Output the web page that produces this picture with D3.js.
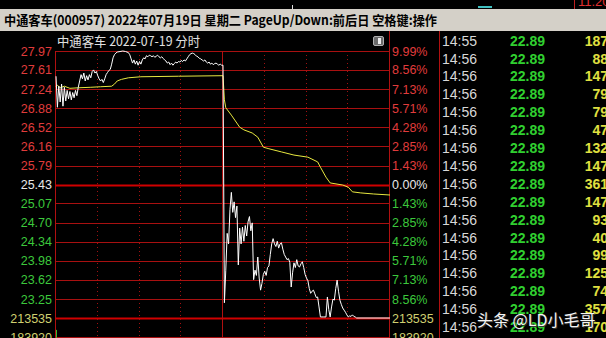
<!DOCTYPE html>
<html>
<head>
<meta charset="utf-8">
<script src="https://cdn.jsdelivr.net/npm/d3@7/dist/d3.min.js"></script>
<style>
  body { margin: 0; background: #000; overflow: hidden; }
  svg { display: block; }
</style>
</head>
<body>
<svg id="chart" width="606" height="338"></svg>
<script>
// ---- data ----
var headerText = "中通客车(000957) 2022年07月19日 星期二 PageUp/Down:前后日 空格键:操作";
var titleText = "中通客车  2022-07-19 分时";
var preClose = 25.43;
var limitDown = 22.89;
var limitUp = 27.97;
var priceTicks = [27.97, 27.61, 27.24, 26.88, 26.52, 26.16, 25.79, 25.43, 25.07, 24.70, 24.34, 23.98, 23.62, 23.25];
var pctTicks = ["9.99%", "8.56%", "7.13%", "5.71%", "4.28%", "2.85%", "1.43%", "0.00%", "1.43%", "2.85%", "4.28%", "5.71%", "7.13%", "8.56%"];
var volTicks = [213535, 183920];
var minuteTicks = [30, 60, 90, 150, 180, 210];
var noonMinute = 120;

// [minute, price] of the white price line
var pricePts = [
  [0,27.49],[1,26.90],[2,27.30],[3,27.00],[4,27.34],[5,26.92],[6,27.28],[7,27.02],[8,27.22],[9,27.06],
  [10,27.20],[11,27.04],[12,27.18],[13,27.08],[14,27.22],[15,27.12],[16,27.28],[17,27.40],[18,27.52],[19,27.44],
  [20,27.55],[21,27.40],[22,27.50],[23,27.42],[24,27.52],[25,27.46],[26,27.58],[27,27.61],[28,27.55],[29,27.58],
  [30,27.50],[31,27.44],[32,27.40],[33,27.43],[34,27.37],[35,27.44],[36,27.52],[37,27.56],[38,27.60],[39,27.62],
  [40,27.72],[41,27.84],[42,27.90],[43,27.93],[44,27.95],[46,27.96],[48,27.97],[50,27.96],[52,27.94],[53,27.90],
  [54,27.82],[55,27.74],[56,27.80],[57,27.72],[58,27.78],[59,27.70],[60,27.77],[61,27.72],[62,27.80],[63,27.84],
  [64,27.82],[65,27.88],[66,27.86],[67,27.89],[68,27.88],[69,27.86],[70,27.88],[71,27.85],[72,27.87],[73,27.89],
  [74,27.86],[75,27.84],[76,27.86],[77,27.83],[78,27.80],[79,27.78],[80,27.74],[81,27.76],[82,27.71],[83,27.74],
  [84,27.70],[85,27.73],[86,27.76],[87,27.74],[88,27.77],[89,27.76],[90,27.79],[91,27.77],[92,27.80],[93,27.78],
  [94,27.82],[95,27.86],[96,27.90],[97,27.92],[98,27.93],[99,27.92],[100,27.90],[101,27.87],[102,27.86],[103,27.83],
  [104,27.82],[105,27.80],[106,27.78],[107,27.80],[108,27.76],[109,27.74],[110,27.76],[111,27.72],[112,27.74],[113,27.71],
  [114,27.73],[115,27.74],[116,27.72],[117,27.70],[118,27.72],[119,27.70],[120,27.70],
  [121,23.18],[122,23.80],[123,24.50],[124,24.30],[125,24.95],[126,25.28],[127,24.90],[128,25.10],[129,24.80],[130,25.02],
  [131,23.90],[132,24.60],[133,24.30],[134,24.62],[135,24.35],[136,24.65],[137,24.45],[138,24.72],[139,24.82],[140,24.55],
  [141,24.70],[142,23.62],[143,23.80],[144,23.70],[145,24.05],[146,23.65],[147,23.42],[148,23.55],[149,23.72],[150,23.78],
  [151,23.70],[152,23.85],[153,23.88],[154,24.10],[155,24.30],[156,24.40],[157,24.30],[158,24.25],[159,24.35],[160,24.22],
  [161,24.30],[162,24.32],[163,24.20],[164,24.10],[165,24.05],[166,24.00],[167,24.02],[168,23.95],[169,23.48],[170,23.75],
  [171,23.94],[172,23.85],[173,24.00],[174,23.88],[175,23.86],[176,23.92],[177,23.96],[178,23.85],[179,23.72],[180,23.65],
  [181,23.60],[182,23.45],[183,23.36],[184,23.40],[185,23.42],[186,23.35],[187,23.28],[188,23.29],[189,23.10],[190,22.91],
  [192,22.91],[194,22.91],[195,23.29],[196,23.05],[197,22.91],[198,23.10],[199,23.25],[200,23.23],[201,23.45],[202,23.61],
  [203,23.40],[204,23.23],[205,23.15],[206,23.08],[207,23.04],[208,23.00],[209,22.95],[210,22.91],[211,22.93],[212,22.92],
  [213,22.95],[214,22.92],[215,22.91],[216,22.89],[240,22.89]
];

// [minute, price] of the yellow average line
var avgPts = [
  [0,27.29],[1,27.32],[3,27.27],[6,27.30],[10,27.26],[16,27.27],[25,27.28],[32,27.29],[40,27.30],[42,27.34],
  [44,27.40],[47,27.43],[52,27.46],[61,27.48],[88,27.49],[120,27.50],[121,27.04],[122,26.89],[126,26.75],[132,26.52],
  [135,26.47],[141,26.41],[145,26.33],[149,26.14],[153,26.11],[162,26.05],[171,25.99],[181,25.95],[188,25.86],[190,25.76],
  [194,25.57],[197,25.46],[206,25.42],[210,25.38],[213,25.29],[219,25.27],[228,25.25],[240,25.23]
];

// first volume bar (the only one visible)
var volPts = [[0, 195000]];

// trade list on the right
var tradeTimes = ["14:55","14:56","14:56","14:56","14:56","14:56","14:56","14:56","14:56","14:56","14:56","14:56","14:56","14:56","14:56","14:56","14:56"];
var tradePrices = ["22.89","22.89","22.89","22.89","22.89","22.89","22.89","22.89","22.89","22.89","22.89","22.89","22.89","22.89","22.89","22.89","22.89"];
var tradeVols = [187, 88, 147, 79, 79, 47, 132, 147, 361, 147, 93, 40, 99, 125, 74, 357, 170];

// ---- drawing ----
var svg = d3.select("#chart");
var plotL = 55, plotR = 389, plotT = 51, plotB = 318, bottom = 338;
var numFont = "'Liberation Sans', Arial, sans-serif";
var cjkFont = "'Noto Sans CJK SC', sans-serif";

var x = d3.scaleLinear().domain([0, 240]).range([plotL, plotR]);
var y = d3.scaleLinear().domain([limitDown, limitUp]).range([plotB, plotT]);
var yVol = d3.scaleLinear().domain([0, volTicks[0]]).range([455, plotB]);

svg.append("rect").attr("width", 606).attr("height", 338).attr("fill", "#000");

// remnants of the row above (cut off by the header bar)
svg.append("text").attr("x", 578).attr("y", 6).attr("fill", "#e03030")
  .style("font", "13px " + numFont).text("11.20");
svg.append("rect").attr("x", 574).attr("y", 0).attr("width", 1).attr("height", 9).attr("fill", "#c02020");
svg.append("rect").attr("x", 478).attr("y", 6).attr("width", 14).attr("height", 2).attr("fill", "#40c0c0");
svg.append("rect").attr("x", 292).attr("y", 5).attr("width", 1).attr("height", 4).attr("fill", "#ddd");

// grey header bar
svg.append("rect").attr("x", 0).attr("y", 9).attr("width", 606).attr("height", 22).attr("fill", "#d4d0c8");
svg.append("text").attr("x", 4).attr("y", 25).attr("fill", "#000")
  .attr("textLength", 433).attr("lengthAdjust", "spacingAndGlyphs")
  .style("font", "bold 13px " + cjkFont).text(headerText);

// title
svg.append("text").attr("x", 57).attr("y", 46).attr("fill", "#e0e0e0")
  .attr("textLength", 143).attr("lengthAdjust", "spacingAndGlyphs")
  .style("font", "13px " + cjkFont).text(titleText);
svg.append("rect").attr("x", 373.5).attr("y", 36.5).attr("width", 10).attr("height", 9).attr("rx", 1.5)
  .attr("fill", "#6a6a6a").attr("stroke", "#b0b0b0");
svg.append("rect").attr("x", 378).attr("y", 38).attr("width", 3).attr("height", 6).attr("fill", "#eee");

// horizontal grid
var grid = svg.append("g");
grid.selectAll("line.h").data(priceTicks.concat([limitDown])).enter().append("line")
  .attr("x1", plotL).attr("x2", plotR)
  .attr("y1", function(d) { return Math.round(y(d)) + 0.5; })
  .attr("y2", function(d) { return Math.round(y(d)) + 0.5; })
  .attr("stroke", function(d) { return (d === preClose || d === limitDown) ? "#d00000" : "#a81010"; })
  .attr("stroke-width", function(d) { return (d === preClose || d === limitDown) ? 2 : 1; });
grid.append("line").attr("x1", plotL).attr("x2", plotR)
  .attr("y1", Math.round(yVol(volTicks[1])) + 0.5).attr("y2", Math.round(yVol(volTicks[1])) + 0.5)
  .attr("stroke", "#a81010");

// vertical grid
grid.selectAll("line.v").data(minuteTicks).enter().append("line")
  .attr("x1", function(d) { return Math.round(x(d)) + 0.5; })
  .attr("x2", function(d) { return Math.round(x(d)) + 0.5; })
  .attr("y1", plotT).attr("y2", bottom)
  .attr("stroke", "#a01010").attr("stroke-dasharray", "1,3");
grid.append("line").attr("x1", Math.round(x(noonMinute)) + 0.5).attr("x2", Math.round(x(noonMinute)) + 0.5)
  .attr("y1", plotT).attr("y2", bottom).attr("stroke", "#b01010");

// borders
grid.append("line").attr("x1", plotL + 0.5).attr("x2", plotL + 0.5).attr("y1", plotT).attr("y2", bottom).attr("stroke", "#b01010");
grid.append("line").attr("x1", plotR + 0.5).attr("x2", plotR + 0.5).attr("y1", 31).attr("y2", bottom).attr("stroke", "#b01010");
grid.append("line").attr("x1", 439.5).attr("x2", 439.5).attr("y1", 31).attr("y2", bottom).attr("stroke", "#b01010");

// axis labels
function priceColor(p) {
  if (Math.abs(p - preClose) < 0.001) return "#e8e8e8";
  return p > preClose ? "#e03c3c" : "#3cc83c";
}
svg.selectAll("text.lp").data(priceTicks).enter().append("text")
  .attr("x", 52).attr("y", function(d) { return y(d) + 4.5; })
  .attr("text-anchor", "end").attr("fill", priceColor)
  .style("font", "12.5px " + numFont).text(function(d) { return d.toFixed(2); });
svg.selectAll("text.rp").data(priceTicks).enter().append("text")
  .attr("x", 392).attr("y", function(d) { return y(d) + 4.5; })
  .attr("fill", priceColor)
  .style("font", "12.5px " + numFont).text(function(d, i) { return pctTicks[i]; });
svg.selectAll("text.lv").data(volTicks).enter().append("text")
  .attr("x", 52).attr("y", function(d) { return yVol(d) + 4.5; })
  .attr("text-anchor", "end").attr("fill", "#d0d070")
  .style("font", "12.5px " + numFont).text(function(d) { return d; });
svg.selectAll("text.rv").data(volTicks).enter().append("text")
  .attr("x", 392).attr("y", function(d) { return yVol(d) + 4.5; })
  .attr("fill", "#d0d070")
  .style("font", "12.5px " + numFont).text(function(d) { return d; });

// volume bars
svg.selectAll("rect.vol").data(volPts).enter().append("rect")
  .attr("x", function(d) { return x(d[0]) + 1; })
  .attr("y", function(d) { return yVol(d[1]); })
  .attr("width", 1).attr("height", function(d) { return yVol(0) - yVol(d[1]); })
  .attr("fill", "#30c030");

// lines
var line = d3.line().x(function(d) { return x(d[0]) + 1; }).y(function(d) { return y(d[1]); });
svg.append("path").datum(avgPts).attr("d", line)
  .attr("fill", "none").attr("stroke", "#e8e840").attr("stroke-width", 1);
svg.append("path").datum(pricePts).attr("d", line)
  .attr("fill", "none").attr("stroke", "#ffffff").attr("stroke-width", 1);

// trade list
var rowY = d3.scaleLinear().domain([0, 16]).range([40.7, 327]);
var rows = svg.selectAll("g.row").data(tradeTimes).enter().append("g")
  .attr("transform", function(d, i) { return "translate(0," + (rowY(i) + 5) + ")"; });
rows.append("text").attr("x", 442).attr("fill", "#d8d8d8")
  .style("font", "14px " + numFont).text(function(d) { return d; });
rows.append("text").attr("x", 510).attr("fill", "#30d030")
  .style("font", "bold 14px " + numFont).text(function(d, i) { return tradePrices[i]; });
rows.append("text").attr("x", 608).attr("text-anchor", "end").attr("fill", "#e0e040")
  .style("font", "bold 14px " + numFont).text(function(d, i) { return tradeVols[i]; });

// watermark
svg.append("text").attr("x", 478).attr("y", 327).attr("fill", "#333")
  .style("font", "16px " + cjkFont).text("头条 @LD小毛哥");
svg.append("text").attr("x", 477).attr("y", 326).attr("fill", "#f4f4f4")
  .style("font", "16px " + cjkFont).text("头条 @LD小毛哥");
</script>
</body>
</html>
